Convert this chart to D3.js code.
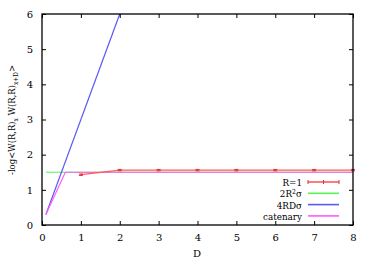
<!DOCTYPE html>
<html>
<head>
<meta charset="utf-8">
<script src="https://cdn.jsdelivr.net/npm/d3@7.9.0/dist/d3.min.js"></script>
<style>
  body { margin: 0; background: #fff; }
  svg, svg text { font-family: 'DejaVu Serif', serif !important; }
</style>
</head>
<body>
<svg id="chart" width="374" height="262"></svg>
<script>
// measured data, R=1
const dVals = [1, 2, 3, 4, 5, 6, 7, 8];
const rVals = [1.43, 1.56, 1.56, 1.56, 1.56, 1.56, 1.56, 1.56];
const rErr = [0.02, 0.02, 0.02, 0.02, 0.02, 0.02, 0.02, 0.02];

// model curves
const flatD = [0.1, 8];
const flatY = [1.5, 1.5];
const linD = [0.1, 2];
const linY = [0.3, 6];
const catD = [0.1, 0.6, 8];
const catY = [0.3, 1.5, 1.5];

const xTicks = [0, 1, 2, 3, 4, 5, 6, 7, 8];
const yTicks = [0, 1, 2, 3, 4, 5, 6];

const red = '#ff5a5a', green = '#5af05a', blue = '#5a5af5', magenta = '#ff5aff';

const svg = d3.select('#chart').attr('font-size', 10);
const m = { left: 42, right: 353, top: 14, bottom: 225 };

const x = d3.scaleLinear().domain([0, 8]).range([m.left, m.right]);
const y = d3.scaleLinear().domain([0, 6]).range([m.bottom, m.top]);

const line = d3.line().x(d => x(d[0])).y(d => y(d[1]));
const zip = (a, b) => a.map((v, i) => [v, b[i]]);

const plot = svg.append('g');
plot.append('path').attr('d', line(zip(flatD, flatY))).attr('fill', 'none').attr('stroke', green).attr('stroke-width', 1.2);
plot.append('path').attr('d', line(zip(linD, linY))).attr('fill', 'none').attr('stroke', blue).attr('stroke-width', 1.2);
plot.append('path').attr('d', line(zip(catD, catY))).attr('fill', 'none').attr('stroke', magenta).attr('stroke-width', 1.2);
plot.append('path').attr('d', line(zip(dVals, rVals))).attr('fill', 'none').attr('stroke', red).attr('stroke-width', 1.2);

// error bars
dVals.forEach((d, i) => {
  const cx = x(d);
  const g = plot.append('g').attr('stroke', '#e03030').attr('stroke-width', 1);
  g.append('line').attr('x1', cx).attr('x2', cx).attr('y1', y(rVals[i] - rErr[i])).attr('y2', y(rVals[i] + rErr[i]));
  g.append('line').attr('x1', cx - 2).attr('x2', cx + 2).attr('y1', y(rVals[i] - rErr[i])).attr('y2', y(rVals[i] - rErr[i]));
  g.append('line').attr('x1', cx - 2).attr('x2', cx + 2).attr('y1', y(rVals[i] + rErr[i])).attr('y2', y(rVals[i] + rErr[i]));
});

// axes with inward ticks on all sides
const tl = 4;
const fmt = d3.format('d');
svg.append('g').attr('transform', `translate(0,${m.bottom})`)
  .call(d3.axisBottom(x).tickValues(xTicks).tickFormat(fmt).tickSizeInner(-tl).tickSizeOuter(0).tickPadding(9));
svg.append('g').attr('transform', `translate(0,${m.top})`)
  .call(d3.axisTop(x).tickValues(xTicks).tickSizeInner(-tl).tickSizeOuter(0).tickFormat(''));
svg.append('g').attr('transform', `translate(${m.left},0)`)
  .call(d3.axisLeft(y).tickValues(yTicks).tickFormat(fmt).tickSizeInner(-tl).tickSizeOuter(0).tickPadding(9));
svg.append('g').attr('transform', `translate(${m.right},0)`)
  .call(d3.axisRight(y).tickValues(yTicks).tickSizeInner(-tl).tickSizeOuter(0).tickFormat(''));
svg.selectAll('.domain').remove();
svg.selectAll('.tick line').attr('stroke', '#000');
svg.selectAll('g').attr('font-family', null).attr('font-size', 10);

svg.append('rect')
  .attr('x', m.left).attr('y', m.top)
  .attr('width', m.right - m.left).attr('height', m.bottom - m.top)
  .attr('fill', 'none').attr('stroke', '#000').attr('stroke-width', 1.3);

// axis labels
svg.append('text').attr('x', 197).attr('y', 257).attr('text-anchor', 'middle').text('D');
const yl = svg.append('text')
  .attr('transform', 'translate(15,120) rotate(-90) scale(0.84,1)')
  .attr('text-anchor', 'middle');
yl.append('tspan').text('-log<W(R,R)');
yl.append('tspan').attr('dy', 3).attr('font-size', 7).text('x');
yl.append('tspan').attr('dy', -3).text(' W(R,R)');
yl.append('tspan').attr('dy', 3).attr('font-size', 7).text('x+D');
yl.append('tspan').attr('dy', -3).text('>');

// legend
const legendItems = [
  { label: ['R=1'], color: red, err: true },
  { label: ['2R', '2', 'σ'], color: green },
  { label: ['4RDσ'], color: blue },
  { label: ['catenary'], color: magenta }
];
const lx = 302, ly = 182, step = 11.3;
legendItems.forEach((it, i) => {
  const yy = ly + i * step;
  const t = svg.append('text')
    .attr('transform', `translate(${lx},${yy + 4}) scale(0.88,1)`)
    .attr('text-anchor', 'end');
  if (it.label.length === 3) {
    t.append('tspan').text(it.label[0]);
    t.append('tspan').attr('dy', -3).attr('font-size', 7).text(it.label[1]);
    t.append('tspan').attr('dy', 3).text(it.label[2]);
  } else {
    t.text(it.label[0]);
  }
  svg.append('line').attr('x1', 308).attr('x2', 339).attr('y1', yy).attr('y2', yy)
    .attr('stroke', it.color).attr('stroke-width', 1.6);
  if (it.err) {
    [308, 323.5, 339].forEach(px => {
      svg.append('line').attr('x1', px).attr('x2', px).attr('y1', yy - 2).attr('y2', yy + 2)
        .attr('stroke', '#e03030');
    });
  }
});
</script>
</body>
</html>
